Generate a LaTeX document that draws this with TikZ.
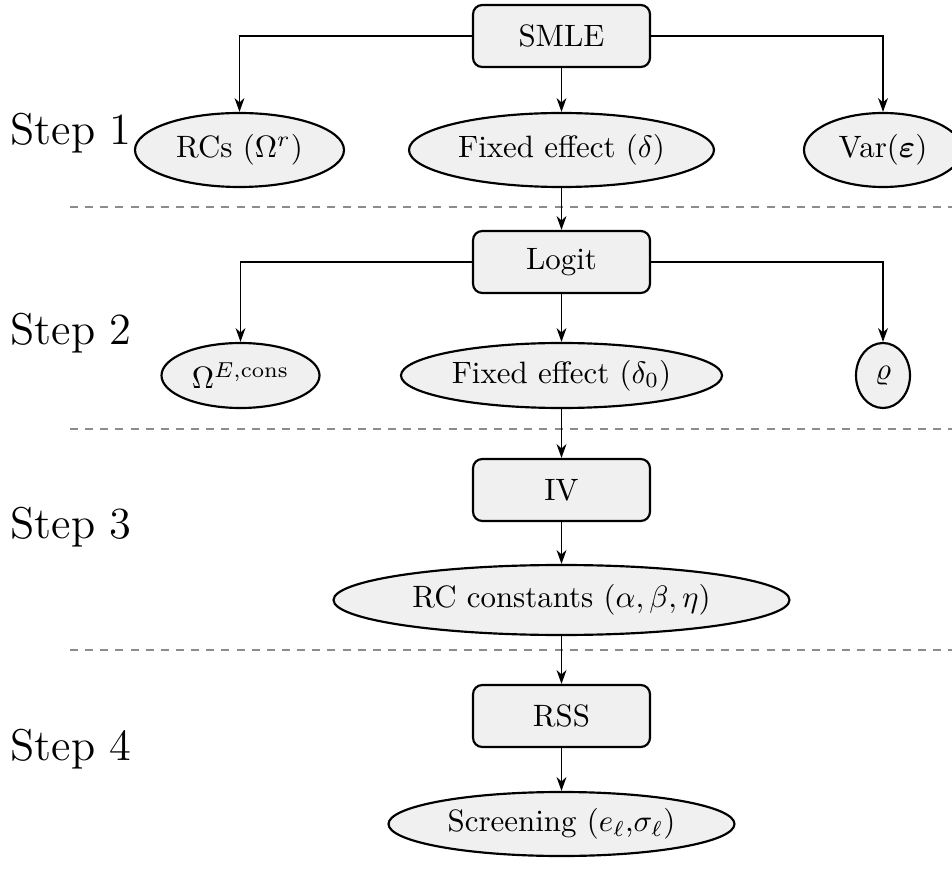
\documentclass[tikz,border=0pt]{standalone}
\usepackage{amsmath,bm}
\usetikzlibrary{shapes.geometric,arrows.meta}
\newcommand{\pxu}{0.3236pt}
\tikzset{
  stepbox/.style={draw, line width=0.7pt, rounded corners=3pt, fill=gray!12, inner sep=0pt,
    minimum width=177*\pxu, minimum height=62*\pxu},
  ell/.style={draw, ellipse, line width=0.7pt, fill=gray!12, inner sep=0pt},
  conn/.style={line width=0.6pt, -{Stealth[length=4.5pt,width=3.2pt]}},
  sep/.style={gray!90, line width=0.8pt, dash pattern=on 2.6pt off 2.3pt},
  steplab/.style={font=\Large, anchor=base west, inner sep=0pt},
}
\begin{document}
\begin{tikzpicture}[x=\pxu, y=-\pxu]
\useasboundingbox (0,0) rectangle (952,869);
% separators
\draw[sep] (70,207) -- (960,207);
\draw[sep] (70,429) -- (960,429);
\draw[sep] (70,650) -- (960,650);
% step labels
\node[steplab] (s1) at (10,145) {Step 1};
\node[steplab] (s2) at (10,345) {Step 2};
\node[steplab] (s3) at (10,538) {Step 3};
\node[steplab] (s4) at (10,760) {Step 4};
% step 1
\node[stepbox] (smle) at (561.5,36) {SMLE};
\node[ell, minimum width=209*\pxu, minimum height=74*\pxu] (rcs) at (239.5,150) {RCs ($\Omega^r$)};
\node[ell, minimum width=305*\pxu, minimum height=74*\pxu] (fe) at (561.5,150) {Fixed effect ($\delta$)};
\node[ell, minimum width=158*\pxu, minimum height=74*\pxu] (var) at (883,150) {Var($\bm{\varepsilon}$)};
\draw[conn] (smle.west) -| (rcs.north);
\draw[conn] (smle.east) -| (var.north);
\draw[conn] (smle) -- (fe);
% step 2
\node[stepbox] (logit) at (561.5,262) {Logit};
\node[ell, minimum width=158*\pxu, minimum height=65*\pxu] (om) at (240.5,375.5) {$\Omega^{E,\text{cons}}$};
\node[ell, minimum width=321*\pxu, minimum height=65*\pxu] (fe0) at (561.5,375.5) {Fixed effect ($\delta_0$)};
\node[ell, minimum width=54*\pxu, minimum height=65*\pxu] (rho) at (883,375.5) {$\varrho$};
\draw[conn] (fe) -- (logit);
\draw[conn] (logit.west) -| (om.north);
\draw[conn] (logit.east) -| (rho.north);
\draw[conn] (logit) -- (fe0);
% step 3
\node[stepbox] (iv) at (561.5,490) {IV};
\node[ell, minimum width=456*\pxu, minimum height=70*\pxu] (rcc) at (561.5,600) {RC constants ($\alpha, \beta, \eta$)};
\draw[conn] (fe0) -- (iv);
\draw[conn] (iv) -- (rcc);
% step 4
\node[stepbox] (rss) at (561.5,716) {RSS};
\node[ell, minimum width=346*\pxu, minimum height=64*\pxu] (scr) at (561.5,824) {Screening ($e_\ell$,$\sigma_\ell$)};
\draw[conn] (rcc) -- (rss);
\draw[conn] (rss) -- (scr);
\end{tikzpicture}
\end{document}
